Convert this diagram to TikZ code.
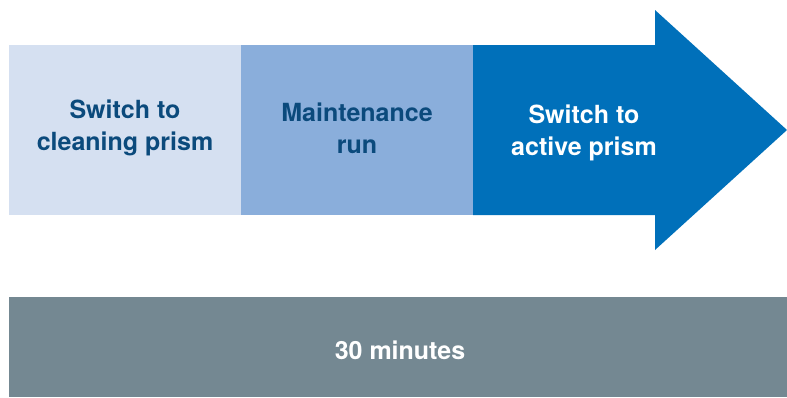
\documentclass[tikz,border=0pt]{standalone}
\usepackage{fontspec}
\setmainfont{TeX Gyre Heros}

\definecolor{cleanblue}{HTML}{D5E0F1}
\definecolor{runblue}{HTML}{8AAEDB}
\definecolor{activeblue}{HTML}{0070BA}
\definecolor{bargrey}{HTML}{748892}
\definecolor{textblue}{HTML}{0B4A7C}

\tikzset{
  stepbox/.style={minimum width=232pt, minimum height=170pt, inner sep=0pt},
  steptext/.style={align=center, font=\fontsize{25}{32}\selectfont\bfseries}
}

\begin{document}
\begin{tikzpicture} [x=1pt, y=-1pt]
                        \useasboundingbox (0,0) rectangle (787,397);

                        % Steps
                        \node [stepbox, fill=cleanblue] (clean) at (125,130) {};
                        \node [stepbox, fill=runblue] (run) at (357,130) {};

                        % Arrow
                        \fill [activeblue] (473,45) -- (655,45) -- (655,10) -- (787,130)
                              -- (655,250) -- (655,215) -- (473,215) -- cycle;

                        % Labels
                        \node [steptext, textblue] (cleantext) at (125,128) {Switch to\\cleaning prism};
                        \node [steptext, textblue] (runtext) at (357,128) {Maintenance\\run};
                        \node [steptext, white] (activetext) at (584,133) {Switch to\\active prism};

                        % Time bar
                        \node [fill=bargrey, minimum width=778pt, minimum height=100pt, inner sep=0pt] (time) at (398,347) {};
                        \node [steptext, white] (timetext) at (400,350) {30 minutes};
                    \end{tikzpicture}
\end{document}
